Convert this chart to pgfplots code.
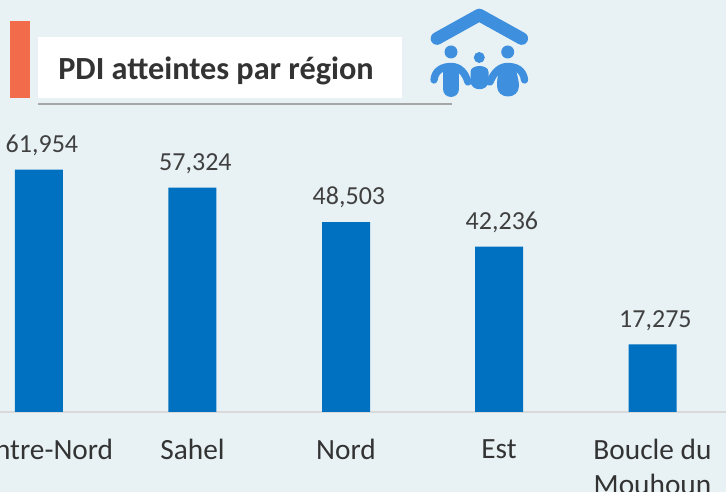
\documentclass[border=0pt]{standalone}
\usepackage{pgfplots}
\usepackage{fontspec}
\setmainfont{Carlito}
\pgfplotsset{compat=1.18}
\definecolor{bg}{HTML}{E8F2F5}
\definecolor{barblue}{HTML}{0070C0}
\definecolor{accent}{HTML}{F26B4B}
\definecolor{icon}{HTML}{3F8FDF}
\definecolor{txt}{HTML}{404040}
\begin{document}
\begin{tikzpicture}
% page: 726 x 492 px, the axis base line lies at y = 412 px
\path[use as bounding box] (0,-60pt) rectangle (544.5pt,309pt);
\clip (0,-60pt) rectangle (544.5pt,309pt);
\fill[bg] (0,-60pt) rectangle (544.5pt,309pt);
\begin{axis}[
  at={(0,0)}, anchor=south west, scale only axis,
  width=544.5pt, height=309pt,
  xmin=0, xmax=726, ymin=0, ymax=105263,
  axis y line=none, axis x line=bottom,
  axis line style={draw=black!15, line width=1.5pt, -},
  xtick={39,192.5,346,499,652.5},
  xticklabels={Centre-Nord,Sahel,Nord,Est,{Boucle du\\Mouhoun}},
  xtick style={draw=none},
  clip=false,
  /pgf/number format/assume math mode=true,
  tick label style={font=\fontsize{22pt}{26pt}\selectfont, text=black!80, align=center},
  x tick label style={yshift=-15pt},
  nodes near coords,
  every node near coord/.append style={font=\fontsize{19.5pt}{24pt}\selectfont, text=txt, xshift=2.2pt, yshift=7pt,
    /pgf/number format/.cd, 1000 sep={,}, assume math mode=true},
]
\addplot[ybar, bar width=36pt, fill=barblue, draw=none] coordinates {
 (39,61954) (192.5,57324) (346,48503) (499,42236) (652.5,17275)};
\end{axis}
\begin{scope}[x=0.75pt,y=-0.75pt,shift={(0,309pt)}]
  \fill[accent] (10,21) rectangle (30,98);
  \fill[white] (38,37) rectangle (402,98);
  \draw[black!35,line width=0.9pt] (38,104) -- (452,104);
  \node[anchor=base west,text=black!80,font=\fontsize{24.2pt}{28pt}\selectfont\bfseries,inner sep=0pt] at (58,80) {PDI atteintes par région};
  % icon
  \draw[icon,line width=9.5pt,line cap=round,line join=round] (437,38.5) -- (479.3,15) -- (521.7,38.5);
  \fill[icon] (451,52) circle (6.5) (507.7,52) circle (6.5) (479.3,57.5) circle (5.5);
  \draw[icon,line width=5.5pt,line cap=round,line join=round] (434,80) .. controls (435,70) and (443,66.5) .. (451,66.5) .. controls (459,66.5) and (465,72) .. (468,82);
  \draw[icon,line width=5.5pt,line cap=round,line join=round] (524.5,80) .. controls (523.5,70) and (516,66.5) .. (507.7,66.5) .. controls (500,66.5) and (494,72) .. (490,82);
  \draw[icon,line width=12pt,line cap=round] (451,72) -- (451,89);
  \fill[icon] (500,66) .. controls (497,78) and (497,82) .. (497,86) .. controls (497,100) and (519,100) .. (519,86) .. controls (519,82) and (518,78) .. (515,66) -- cycle;
  \fill[icon] (470.5,72) .. controls (470.5,64) and (488.5,64) .. (488.5,72) -- (488.5,81) .. controls (488.5,92) and (470.5,92) .. (470.5,81) -- cycle;
\end{scope}
\end{tikzpicture}
\end{document}
